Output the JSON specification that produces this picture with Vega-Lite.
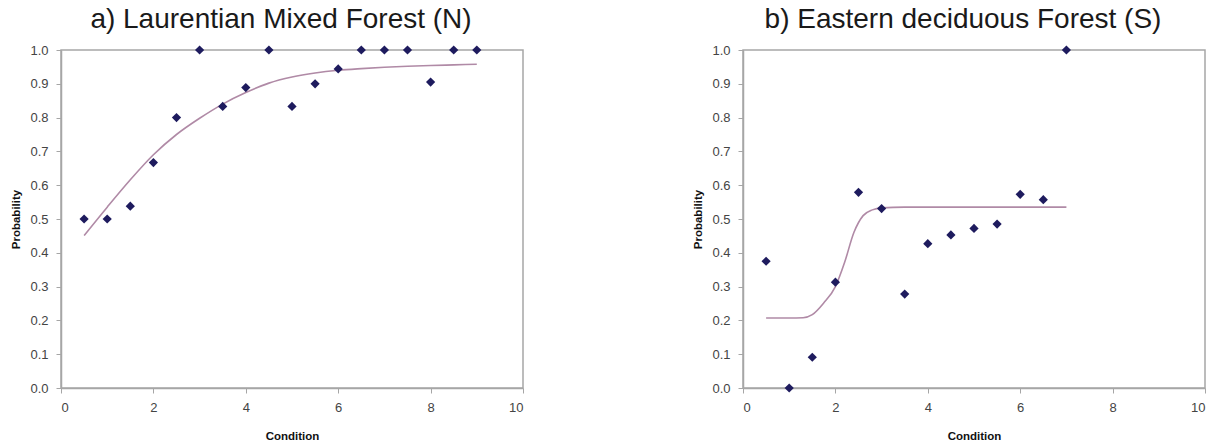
{
  "$schema": "https://vega.github.io/schema/vega-lite/v6.json",
  "background": "white",
  "padding": {"left": 10, "top": 5, "right": 5, "bottom": 5},
  "spacing": 167,
  "datasets": {
    "ptsA": [
      {"condition": 0.5, "probability": 0.5},
      {"condition": 1.0, "probability": 0.5},
      {"condition": 1.5, "probability": 0.538},
      {"condition": 2.0, "probability": 0.667},
      {"condition": 2.5, "probability": 0.8},
      {"condition": 3.0, "probability": 1.0},
      {"condition": 3.5, "probability": 0.833},
      {"condition": 4.0, "probability": 0.889},
      {"condition": 4.5, "probability": 1.0},
      {"condition": 5.0, "probability": 0.833},
      {"condition": 5.5, "probability": 0.9},
      {"condition": 6.0, "probability": 0.944},
      {"condition": 6.5, "probability": 1.0},
      {"condition": 7.0, "probability": 1.0},
      {"condition": 7.5, "probability": 1.0},
      {"condition": 8.0, "probability": 0.905},
      {"condition": 8.5, "probability": 1.0},
      {"condition": 9.0, "probability": 1.0}
    ],
    "fitA": [
      {"condition": 0.5, "probability": 0.451},
      {"condition": 1.0, "probability": 0.535},
      {"condition": 1.5, "probability": 0.616},
      {"condition": 2.0, "probability": 0.69},
      {"condition": 2.5, "probability": 0.75},
      {"condition": 3.0, "probability": 0.798},
      {"condition": 3.5, "probability": 0.84},
      {"condition": 4.0, "probability": 0.874},
      {"condition": 4.5, "probability": 0.902},
      {"condition": 5.0, "probability": 0.92},
      {"condition": 5.5, "probability": 0.932},
      {"condition": 6.0, "probability": 0.94},
      {"condition": 6.5, "probability": 0.945},
      {"condition": 7.0, "probability": 0.949},
      {"condition": 7.5, "probability": 0.952},
      {"condition": 8.0, "probability": 0.954},
      {"condition": 8.5, "probability": 0.956},
      {"condition": 9.0, "probability": 0.958}
    ],
    "ptsB": [
      {"condition": 0.5, "probability": 0.375},
      {"condition": 1.0, "probability": 0.0},
      {"condition": 1.5, "probability": 0.091},
      {"condition": 2.0, "probability": 0.313},
      {"condition": 2.5, "probability": 0.579},
      {"condition": 3.0, "probability": 0.531},
      {"condition": 3.5, "probability": 0.278},
      {"condition": 4.0, "probability": 0.427},
      {"condition": 4.5, "probability": 0.453},
      {"condition": 5.0, "probability": 0.472},
      {"condition": 5.5, "probability": 0.485},
      {"condition": 6.0, "probability": 0.573},
      {"condition": 6.5, "probability": 0.557},
      {"condition": 7.0, "probability": 1.0}
    ],
    "fitB": [
      {"condition": 0.5, "probability": 0.207},
      {"condition": 1.0, "probability": 0.207},
      {"condition": 1.3, "probability": 0.208},
      {"condition": 1.5, "probability": 0.217},
      {"condition": 1.75, "probability": 0.252},
      {"condition": 2.0, "probability": 0.3},
      {"condition": 2.2, "probability": 0.372},
      {"condition": 2.4, "probability": 0.46},
      {"condition": 2.6, "probability": 0.51},
      {"condition": 2.8, "probability": 0.527},
      {"condition": 3.0, "probability": 0.533},
      {"condition": 3.5, "probability": 0.535},
      {"condition": 5.0, "probability": 0.535},
      {"condition": 7.0, "probability": 0.535}
    ]
  },
  "config": {
    "font": "Liberation Sans",
    "view": {"stroke": "#a6a6a6", "strokeWidth": 1.5},
    "axis": {
      "grid": false,
      "domainColor": "#a6a6a6",
      "domainWidth": 1.5,
      "tickColor": "#a6a6a6",
      "tickSize": 5,
      "labelFont": "Liberation Sans",
      "labelFontSize": 13,
      "labelColor": "#444444",
      "labelOverlap": false,
      "titleFont": "Liberation Sans",
      "titleFontSize": 11.5,
      "titleFontWeight": "bold",
      "titleColor": "#111111"
    },
    "title": {
      "font": "Liberation Sans",
      "fontSize": 28,
      "fontWeight": "normal",
      "color": "#1a1a1a",
      "anchor": "middle",
      "offset": 10,
      "dx": -11
    }
  },
  "hconcat": [
    {
      "title": "a) Laurentian Mixed Forest (N)",
      "width": 462,
      "height": 338,
      "encoding": {
        "x": {"field": "condition", "type": "quantitative", "scale": {"domain": [0, 10], "nice": false}, "axis": {"values": [0, 2, 4, 6, 8, 10], "title": "Condition", "labelPadding": 8, "titlePadding": 16}},
        "y": {"field": "probability", "type": "quantitative", "scale": {"domain": [0, 1], "nice": false}, "axis": {"values": [0, 0.1, 0.2, 0.3, 0.4, 0.5, 0.6, 0.7, 0.8, 0.9, 1.0], "format": ".1f", "title": "Probability", "labelPadding": 8, "titlePadding": 8}}
      },
      "layer": [
        {
          "data": {"name": "fitA"},
          "mark": {"type": "line", "interpolate": "monotone", "color": "#b08aa6", "strokeWidth": 1.6}
        },
        {
          "data": {"name": "ptsA"},
          "mark": {"type": "point", "shape": "diamond", "filled": true, "size": 85, "color": "#1e1b5e", "opacity": 1, "clip": false}
        }
      ]
    },
    {
      "title": "b) Eastern deciduous Forest (S)",
      "width": 462,
      "height": 338,
      "encoding": {
        "x": {"field": "condition", "type": "quantitative", "scale": {"domain": [0, 10], "nice": false}, "axis": {"values": [0, 2, 4, 6, 8, 10], "title": "Condition", "labelPadding": 8, "titlePadding": 16}},
        "y": {"field": "probability", "type": "quantitative", "scale": {"domain": [0, 1], "nice": false}, "axis": {"values": [0, 0.1, 0.2, 0.3, 0.4, 0.5, 0.6, 0.7, 0.8, 0.9, 1.0], "format": ".1f", "title": "Probability", "labelPadding": 8, "titlePadding": 8}}
      },
      "layer": [
        {
          "data": {"name": "fitB"},
          "mark": {"type": "line", "interpolate": "monotone", "color": "#b08aa6", "strokeWidth": 1.6}
        },
        {
          "data": {"name": "ptsB"},
          "mark": {"type": "point", "shape": "diamond", "filled": true, "size": 85, "color": "#1e1b5e", "opacity": 1, "clip": false}
        }
      ]
    }
  ]
}
